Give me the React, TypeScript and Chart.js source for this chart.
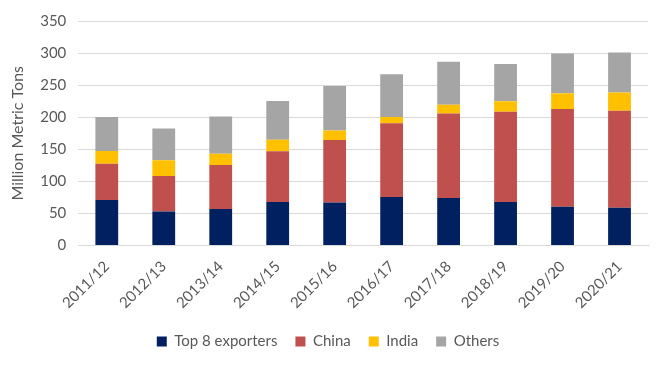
import React, { useEffect, useRef } from "react";
import { Chart, registerables } from "chart.js";

Chart.register(...registerables);

const categories = ["2011/12", "2012/13", "2013/14", "2014/15", "2015/16", "2016/17", "2017/18", "2018/19", "2019/20", "2020/21"];
const top8Exporters = [71, 53, 57, 68, 67, 75.5, 74, 68, 60.5, 59];
const china = [56.5, 55.5, 68.5, 79, 97.5, 115, 132, 140.5, 152.5, 151];
const india = [20, 24.5, 17.5, 18, 15, 10, 13.5, 16.5, 24.5, 28.5];
const others = [53, 49.3, 58, 60.5, 69, 66.5, 67, 58, 62, 62.5];

const FONT = "Lato, 'Open Sans', sans-serif";
const TXT = "#595959";

export default function App() {
  const ref = useRef<HTMLCanvasElement | null>(null);
  useEffect(() => {
    if (!ref.current) return;
    const chart = new Chart(ref.current, {
      type: "bar",
      data: {
        labels: categories,
        datasets: [
          { label: "Top 8 exporters", data: top8Exporters, backgroundColor: "#002060" },
          { label: "China", data: china, backgroundColor: "#C0504D" },
          { label: "India", data: india, backgroundColor: "#FFC000" },
          { label: "Others", data: others, backgroundColor: "#A5A5A5" },
        ],
      },
      options: {
        animation: false,
        responsive: false,
        maintainAspectRatio: false,
        layout: { padding: { top: 11, right: 23, left: 8, bottom: 12 } },
        datasets: { bar: { categoryPercentage: 1, barPercentage: 0.4 } },
        scales: {
          x: {
            stacked: true,
            grid: { display: false },
            border: { color: "#d9d9d9" },
            ticks: { color: TXT, font: { family: FONT, size: 15 }, minRotation: 45, maxRotation: 45, padding: 4 },
          },
          y: {
            stacked: true,
            min: 0,
            max: 350,
            grid: { color: "#d9d9d9", drawTicks: false },
            border: { display: false },
            ticks: { stepSize: 50, color: TXT, font: { family: FONT, size: 15 }, padding: 12 },
            title: { display: true, text: "Million Metric Tons", color: TXT, font: { family: FONT, size: 16 }, padding: { top: 0, bottom: 1 } },
          },
        },
        plugins: {
          legend: {
            position: "bottom",
            labels: { boxWidth: 10, boxHeight: 10, color: TXT, font: { family: FONT, size: 15 }, padding: 18 },
          },
          tooltip: { enabled: false },
        },
      },
    });
    return () => chart.destroy();
  }, []);
  return (
    <div style={{ position: "fixed", left: 0, top: 0, width: 671, height: 371, background: "#fff" }}>
      <canvas ref={ref} width={671} height={371} style={{ width: 671, height: 371 }} />
    </div>
  );
}
